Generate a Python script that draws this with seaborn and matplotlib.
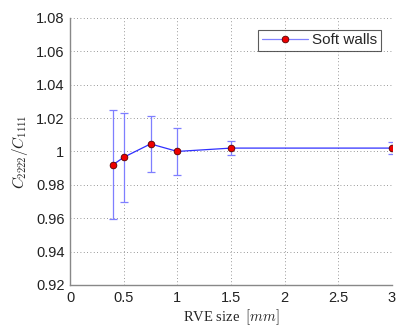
import matplotlib
matplotlib.use("Agg")
import matplotlib.pyplot as plt
import seaborn as sns
import pandas as pd
from matplotlib.ticker import FuncFormatter

rve_size = [0.4, 0.5, 0.75, 1.0, 1.5, 3.0]
ratio = [0.992, 0.9965, 1.0045, 1.0, 1.002, 1.002]
err = [0.0327, 0.0268, 0.0168, 0.0143, 0.004, 0.0035]
series_label = "Soft walls"
xticks = [0, 0.5, 1, 1.5, 2, 2.5, 3]
yticks = [0.92, 0.94, 0.96, 0.98, 1.0, 1.02, 1.04, 1.06, 1.08]

df = pd.DataFrame({"x": rve_size, "y": ratio, "s": [series_label] * len(rve_size)})

sns.set_style("white")
plt.rcParams["font.family"] = ["Liberation Sans", "DejaVu Sans"]
plt.rcParams["mathtext.fontset"] = "cm"

fig = plt.figure(figsize=(3.98, 3.31), dpi=100)
ax = fig.add_axes([0.176, 0.139, 0.809, 0.807])

ax.errorbar(rve_size, ratio, yerr=err, fmt="none", ecolor="#7f7fff", elinewidth=0.9,
            capsize=3, capthick=0.9, zorder=2)
sns.lineplot(data=df, x="x", y="y", hue="s", palette=["#3030ff"], marker="o",
             markersize=4.8, markerfacecolor="#ee0000", markeredgecolor="#550000",
             markeredgewidth=0.6, linewidth=0.9, ax=ax, zorder=3)

ax.set_xlim(0, 3)
ax.set_ylim(0.92, 1.08)
ax.set_xticks(xticks)
ax.set_yticks(yticks)
fmt = FuncFormatter(lambda v, p: "%g" % round(v, 4))
ax.xaxis.set_major_formatter(fmt)
ax.yaxis.set_major_formatter(fmt)
ax.tick_params(axis="both", direction="in", length=3, labelsize=10.5, colors="#222222",
               pad=4)
ax.tick_params(axis="both", color="#555555")
ax.grid(True, linestyle=(0, (1, 3)), color="#777777", linewidth=0.6)

for s in ["top", "right"]:
    ax.spines[s].set_visible(False)
for s in ["left", "bottom"]:
    ax.spines[s].set_color("#888888")
    ax.spines[s].set_linewidth(1.0)

ax.set_xlabel(r"RVE size  $[mm]$", family=["Liberation Serif", "DejaVu Serif"],
              fontsize=10.5, labelpad=2)
ax.set_ylabel(r"$C_{2222}/C_{1111}$", fontsize=11, labelpad=4)

leg = ax.legend(loc="upper right", fontsize=11, frameon=True, fancybox=False,
                edgecolor="#333333", handlelength=3.0, borderpad=0.25,
                handletextpad=0.3, bbox_to_anchor=(0.99, 0.985))
leg.get_frame().set_linewidth(0.8)
for h in leg.legend_handles:
    h.set_markerfacecolor("#ee0000")
    h.set_markeredgecolor("#550000")
    h.set_color("#8080ff")

fig.savefig("out.png", dpi=100)
